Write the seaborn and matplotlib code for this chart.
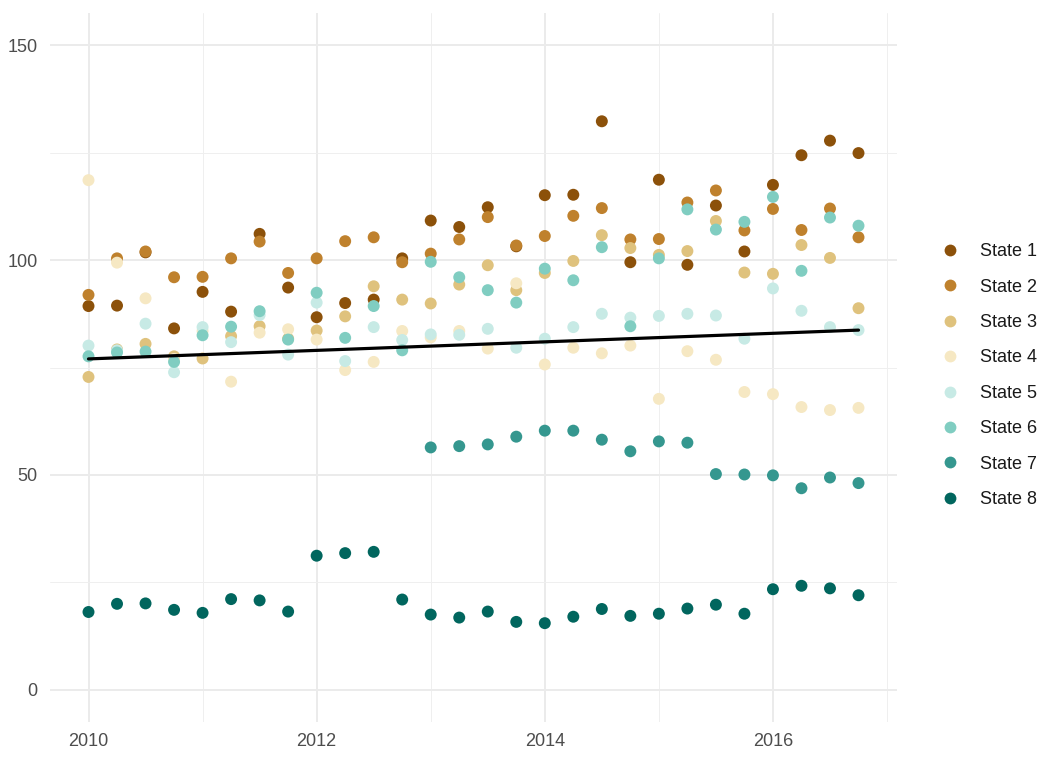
import pandas as pd
import numpy as np
import matplotlib
matplotlib.use("Agg")
import matplotlib.pyplot as plt
import seaborn as sns
from matplotlib.ticker import MultipleLocator

# --- Data ---
quarters = [2010.00, 2010.25, 2010.50, 2010.75, 2011.00, 2011.25, 2011.50, 2011.75,
            2012.00, 2012.25, 2012.50, 2012.75, 2013.00, 2013.25, 2013.50, 2013.75,
            2014.00, 2014.25, 2014.50, 2014.75, 2015.00, 2015.25, 2015.50, 2015.75,
            2016.00, 2016.25, 2016.50, 2016.75]

state_1 = [89.3, 89.4, 101.8, 84.1, 92.6, 88.0, 106.1, 93.6, 86.7, 90.0, 90.8, 100.4, 109.2, 107.7,
           112.3, 103.2, 115.1, 115.2, 132.3, 99.5, 118.7, 98.9, 112.7, 102.0, 117.5, 124.4, 127.8, 124.9]
state_2 = [91.9, 100.4, 102.0, 96.0, 96.1, 100.4, 104.3, 97.0, 100.4, 104.4, 105.3, 99.5, 101.5, 104.8,
           110.0, 103.4, 105.6, 110.3, 112.1, 104.8, 104.9, 113.4, 116.2, 106.9, 111.9, 107.0, 112.0, 105.3]
state_3 = [72.8, 79.2, 80.5, 77.6, 77.1, 82.3, 84.6, 81.7, 83.6, 86.9, 93.9, 90.8, 89.9, 94.3,
           98.8, 93.0, 97.0, 99.8, 105.8, 102.8, 101.2, 102.1, 109.1, 97.1, 96.8, 103.5, 100.5, 88.8]
state_4 = [118.6, 99.4, 91.1, 77.0, 83.5, 71.7, 83.1, 83.9, 81.5, 74.4, 76.3, 83.5, 82.0, 83.5,
           79.4, 94.6, 75.7, 79.6, 78.3, 80.1, 67.7, 78.8, 76.8, 69.3, 68.8, 65.8, 65.1, 65.6]
state_5 = [80.1, 79.0, 85.2, 73.9, 84.4, 80.9, 87.2, 78.0, 90.1, 76.5, 84.4, 81.4, 82.7, 82.6,
           84.0, 79.6, 81.7, 84.4, 87.5, 86.6, 87.0, 87.5, 87.1, 81.7, 93.4, 88.2, 84.4, 83.7]
state_6 = [77.6, 78.5, 78.7, 76.3, 82.5, 84.5, 88.1, 81.5, 92.4, 81.9, 89.3, 79.0, 99.6, 96.0,
           93.0, 90.1, 98.0, 95.3, 103.0, 84.6, 100.4, 111.8, 107.1, 108.9, 114.7, 97.5, 109.9, 108.0]
state_7 = [np.nan] * 12 + [56.4, 56.7, 57.1, 58.9, 60.3, 60.3, 58.2, 55.5,
                           57.8, 57.5, 50.2, 50.1, 49.9, 46.9, 49.4, 48.1]
state_8 = [18.1, 20.0, 20.1, 18.6, 17.9, 21.1, 20.8, 18.2, 31.2, 31.8, 32.1, 21.0, 17.5, 16.8,
           18.2, 15.8, 15.5, 17.0, 18.8, 17.2, 17.7, 18.9, 19.8, 17.7, 23.4, 24.2, 23.6, 22.0]

state_names = ["State 1", "State 2", "State 3", "State 4",
               "State 5", "State 6", "State 7", "State 8"]
state_values = [state_1, state_2, state_3, state_4, state_5, state_6, state_7, state_8]

# overall trend line (end points)
trend_x = [2010.00, 2016.75]
trend_y = [77.0, 83.7]

palette = ["#8C510A", "#BF812D", "#DFC27D", "#F6E8C3",
           "#C7EAE5", "#80CDC1", "#35978F", "#01665E"]

# --- Long-format table ---
frames = []
for name, vals in zip(state_names, state_values):
    frames.append(pd.DataFrame({"time": quarters, "value": vals, "state": name}))
df = pd.concat(frames, ignore_index=True).dropna(subset=["value"])

# --- Plot ---
sns.set_theme(style="white")
plt.rcParams["font.family"] = ["Liberation Sans", "DejaVu Sans"]

fig = plt.figure(figsize=(10.5, 7.59), dpi=100)
ax = fig.add_axes([50 / 1050, 1 - 722 / 759, 847 / 1050, 709 / 759])

sns.scatterplot(data=df, x="time", y="value", hue="state", hue_order=state_names,
                palette=palette, s=74, linewidth=0, ax=ax, zorder=3)
sns.lineplot(x=trend_x, y=trend_y, color="black", linewidth=2.3, ax=ax, zorder=4)

# axis range like ggplot's default 5% expansion
ax.set_xlim(2010 - 0.3375, 2016.75 + 0.3375)
ax.set_ylim(-7.5, 157.5)

ax.xaxis.set_major_locator(MultipleLocator(2))
ax.xaxis.set_minor_locator(MultipleLocator(1))
ax.yaxis.set_major_locator(MultipleLocator(50))
ax.yaxis.set_minor_locator(MultipleLocator(25))
ax.xaxis.set_major_formatter(matplotlib.ticker.FuncFormatter(lambda v, p: f"{v:.0f}"))

ax.grid(True, which="major", color="#EBEBEB", linewidth=1.4, zorder=0)
ax.grid(True, which="minor", color="#EFEFEF", linewidth=0.7, zorder=0)
ax.set_axisbelow(True)
for spine in ax.spines.values():
    spine.set_visible(False)
ax.tick_params(which="both", length=0, labelsize=13, labelcolor="#4D4D4D")
ax.tick_params(axis="y", pad=9)
ax.tick_params(axis="x", pad=8)
ax.set_xlabel("")
ax.set_ylabel("")

sns.move_legend(ax, "center left", bbox_to_anchor=(0.896, 0.505),
                bbox_transform=fig.transFigure, title=None, frameon=False,
                fontsize=13, labelspacing=1.02, handlelength=1.0,
                handletextpad=1.15, borderpad=0, borderaxespad=0)
for h in ax.get_legend().legend_handles:
    try:
        h.set_markersize(8.5)
    except AttributeError:
        h.set_sizes([55])
for t in ax.get_legend().get_texts():
    t.set_color("#1A1A1A")

fig.savefig("out.png", dpi=100)
plt.close(fig)
